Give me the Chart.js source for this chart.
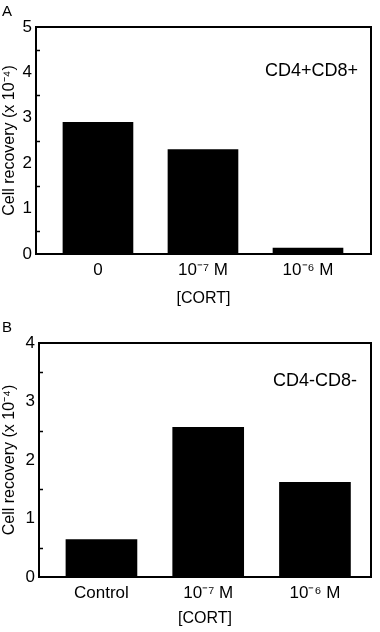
<!DOCTYPE html>
<html>
<head>
<meta charset="utf-8">
<script src="https://cdn.jsdelivr.net/npm/chart.js@4"></script>
<style>
  html, body { margin: 0; padding: 0; background: #fff; }
  body { width: 380px; height: 632px; position: relative; overflow: hidden;
         font-family: "Liberation Sans", Arial, sans-serif; color: #000; }
  .panel { position: absolute; left: 0; }
  .tag { position: absolute; font-size: 15px; line-height: 15px; }
  .inset { position: absolute; font-size: 18px; line-height: 18px; }
</style>
</head>
<body>
<div class="panel" style="top:0"><canvas id="chartA" width="380" height="312"></canvas></div>
<div class="panel" style="top:312px"><canvas id="chartB" width="380" height="320"></canvas></div>
<div class="tag" style="left:2px;top:3px">A</div>
<div class="tag" style="left:2px;top:319px">B</div>
<div class="inset" style="left:265px;top:61px">CD4+CD8+</div>
<div class="inset" style="left:273px;top:371px">CD4-CD8-</div>
<script>
// panel A: CD4+CD8+
var categoriesA = ['0', '10\u207B\u2077 M', '10\u207B\u2076 M'];
var valuesA = [2.90, 2.30, 0.13];
// panel B: CD4-CD8-
var categoriesB = ['Control', '10\u207B\u2077 M', '10\u207B\u2076 M'];
var valuesB = [0.64, 2.56, 1.62];

var yTitle = 'Cell recovery (x 10\u207B\u2074)';
var xTitle = '[CORT]';

Chart.defaults.font.family = '"Liberation Sans", Arial, sans-serif';
Chart.defaults.color = '#000';

// box around the plot plus small inner ticks at the half units
var framePlugin = {
  id: 'frame',
  afterDatasetsDraw: function (chart) {
    var a = chart.chartArea, ctx = chart.ctx, y = chart.scales.y;
    ctx.save();
    ctx.strokeStyle = '#000';
    ctx.lineWidth = 1.5;
    for (var v = 0.5; v < y.max; v += 1) {
      var py = Math.round(y.getPixelForValue(v)) + 0.5;
      ctx.beginPath();
      ctx.moveTo(a.left, py);
      ctx.lineTo(a.left + 4, py);
      ctx.stroke();
    }
    ctx.lineWidth = 2;
    ctx.strokeRect(a.left, a.top, a.right - a.left, a.bottom - a.top);
    ctx.restore();
  }
};

function makePanel(id, cats, vals, yMax, opt) {
  return new Chart(document.getElementById(id), {
    type: 'bar',
    data: {
      datasets: [{
        data: vals.map(function (v, i) { return { x: i, y: v }; }),
        backgroundColor: '#000',
        borderWidth: 0,
        barThickness: opt.barWidth
      }]
    },
    options: {
      responsive: false,
      animation: false,
      layout: { padding: { top: opt.padTop, right: 9, left: 0, bottom: 0 } },
      plugins: { legend: { display: false }, tooltip: { enabled: false } },
      scales: {
        x: {
          type: 'linear',
          min: opt.xMin,
          max: opt.xMax,
          offset: false,
          grid: { display: false, drawTicks: false },
          border: { display: false },
          afterBuildTicks: function (s) {
            s.ticks = s.ticks.filter(function (t) {
              return Number.isInteger(t.value) && t.value >= 0 && t.value < cats.length;
            });
          },
          afterFit: function (s) { s.height = opt.xHeight; },
          ticks: {
            stepSize: 1,
            includeBounds: false,
            autoSkip: false,
            maxRotation: 0,
            padding: 6,
            font: { size: 17 },
            callback: function (v) { return cats[v]; }
          },
          title: { display: true, text: xTitle, font: { size: 16 }, padding: { top: 6 } }
        },
        y: {
          min: 0,
          max: yMax,
          grid: { display: false, drawTicks: false },
          border: { display: false },
          afterFit: function (s) { s.width = opt.yWidth; },
          ticks: { stepSize: 1, padding: 4, font: { size: 17 } },
          title: { display: true, text: yTitle, font: { size: 16 }, padding: { top: 0, bottom: 0 } }
        }
      }
    },
    plugins: [framePlugin]
  });
}

makePanel('chartA', categoriesA, valuesA, 5, {
  padTop: 27, xHeight: 58, yWidth: 36, xMin: -0.59, xMax: 2.6, barWidth: 70
});
makePanel('chartB', categoriesB, valuesB, 4, {
  padTop: 31, xHeight: 55, yWidth: 39, xMin: -0.585, xMax: 2.525, barWidth: 71
});
</script>
</body>
</html>
